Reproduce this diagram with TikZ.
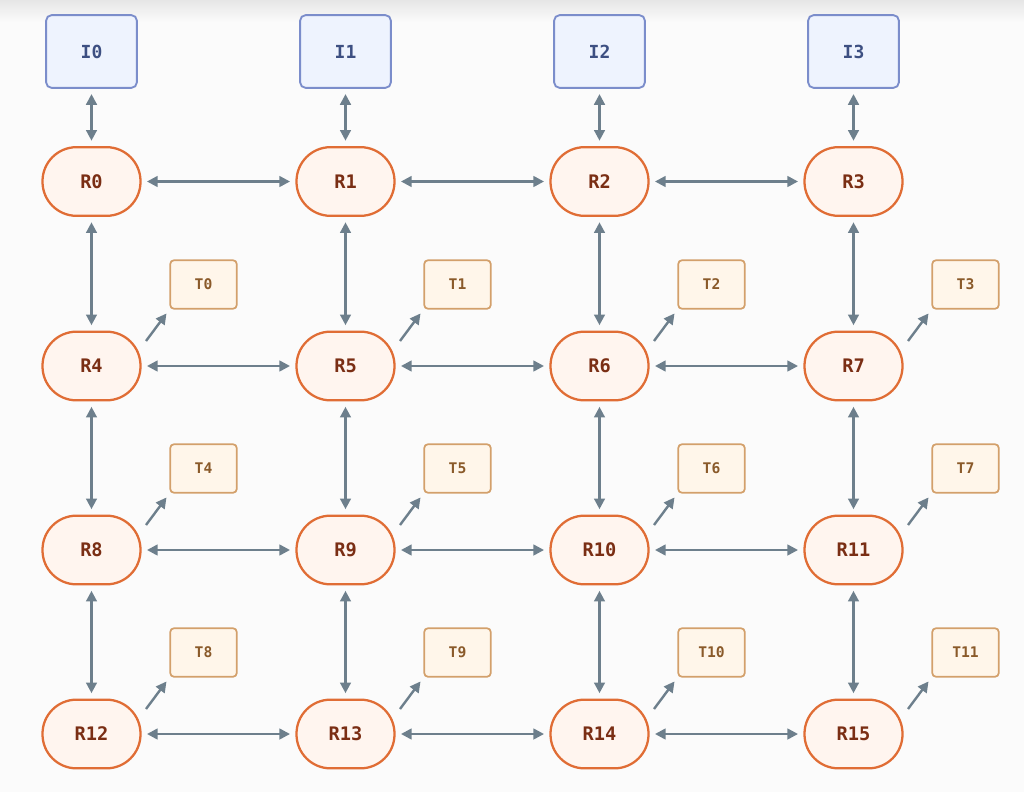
\documentclass[tikz,border=0pt]{standalone}
\usepackage{fontspec}
\setmonofont{DejaVu Sans Mono}
\usetikzlibrary{arrows.meta,calc}
\definecolor{bgc}{HTML}{FBFBFB}
\definecolor{topc}{HTML}{E6E6E6}
\definecolor{ifill}{HTML}{EEF3FE}
\definecolor{idraw}{HTML}{7B8DCB}
\definecolor{itext}{HTML}{3D4F82}
\definecolor{rfill}{HTML}{FFF5EF}
\definecolor{rdraw}{HTML}{E06D35}
\definecolor{rtext}{HTML}{7A2E14}
\definecolor{tfill}{HTML}{FFF6EA}
\definecolor{tdraw}{HTML}{D3A06B}
\definecolor{ttext}{HTML}{8A5A2A}
\definecolor{arr}{HTML}{6D7F8C}
\tikzset{
  x=0.75pt, y=-0.75pt,
  ibox/.style={draw=idraw, fill=ifill, line width=1.4pt, rounded corners=4pt,
    minimum width=68pt, minimum height=54.5pt, inner sep=0pt,
    font=\ttfamily\bfseries\fontsize{13.5}{15}\selectfont, text=itext},
  rbox/.style={draw=rdraw, fill=rfill, line width=1.7pt, rounded corners=25.5pt,
    minimum width=73.5pt, minimum height=51.5pt, inner sep=0pt,
    font=\ttfamily\bfseries\fontsize{14}{16}\selectfont, text=rtext},
  tbox/.style={draw=tdraw, fill=tfill, line width=1.3pt, rounded corners=3pt,
    minimum width=50pt, minimum height=36.5pt, inner sep=0pt,
    font=\ttfamily\bfseries\fontsize{11}{13}\selectfont, text=ttext},
  link/.style={draw=arr, line width=1.8pt, {Triangle[length=8pt,width=8pt]}-{Triangle[length=8pt,width=8pt]},
    shorten <=4pt, shorten >=4pt},
  tlink/.style={draw=arr, line width=1.8pt, -{Triangle[length=8pt,width=8pt]}, shorten >=3.5pt},
}
\begin{document}
\begin{tikzpicture}
\useasboundingbox (0,0) rectangle (1024,792);
\fill[bgc] (0,0) rectangle (1024,792);
\shade[top color=topc, bottom color=bgc] (0,0) rectangle (1024,22);
% columns
\foreach \c/\x in {0/91.5,1/345.5,2/599.5,3/853.5}{
  \node[ibox] (I\c) at (\x,51.5) {I\c};
}
\foreach \r/\y in {0/181.5,1/366,2/550,3/734}{
  \foreach \c/\x in {0/91.5,1/345.5,2/599.5,3/853.5}{
    \pgfmathtruncatemacro{\n}{\r*4+\c}
    \node[rbox] (R\n) at (\x,\y) {R\n};
  }
}
\foreach \r/\y in {1/366,2/550,3/734}{
  \foreach \c/\x in {0/91.5,1/345.5,2/599.5,3/853.5}{
    \pgfmathtruncatemacro{\n}{(\r-1)*4+\c}
    \pgfmathtruncatemacro{\m}{\r*4+\c}
    \node[tbox] (T\n) at (\x+112,\y-81.5) {T\n};
    \coordinate (s\n) at ($(R\m)+(54.5,-25)$);
    \draw[tlink] (s\n) -- (T\n.south west);
  }
}
% I-R links
\foreach \c in {0,1,2,3}{ \draw[link] (I\c) -- (R\c); }
% horizontal
\foreach \a/\b in {0/1,1/2,2/3,4/5,5/6,6/7,8/9,9/10,10/11,12/13,13/14,14/15}{
  \draw[link] (R\a) -- (R\b);
}
% vertical
\foreach \a/\b in {0/4,1/5,2/6,3/7,4/8,5/9,6/10,7/11,8/12,9/13,10/14,11/15}{
  \draw[link] (R\a) -- (R\b);
}
\end{tikzpicture}
\end{document}
